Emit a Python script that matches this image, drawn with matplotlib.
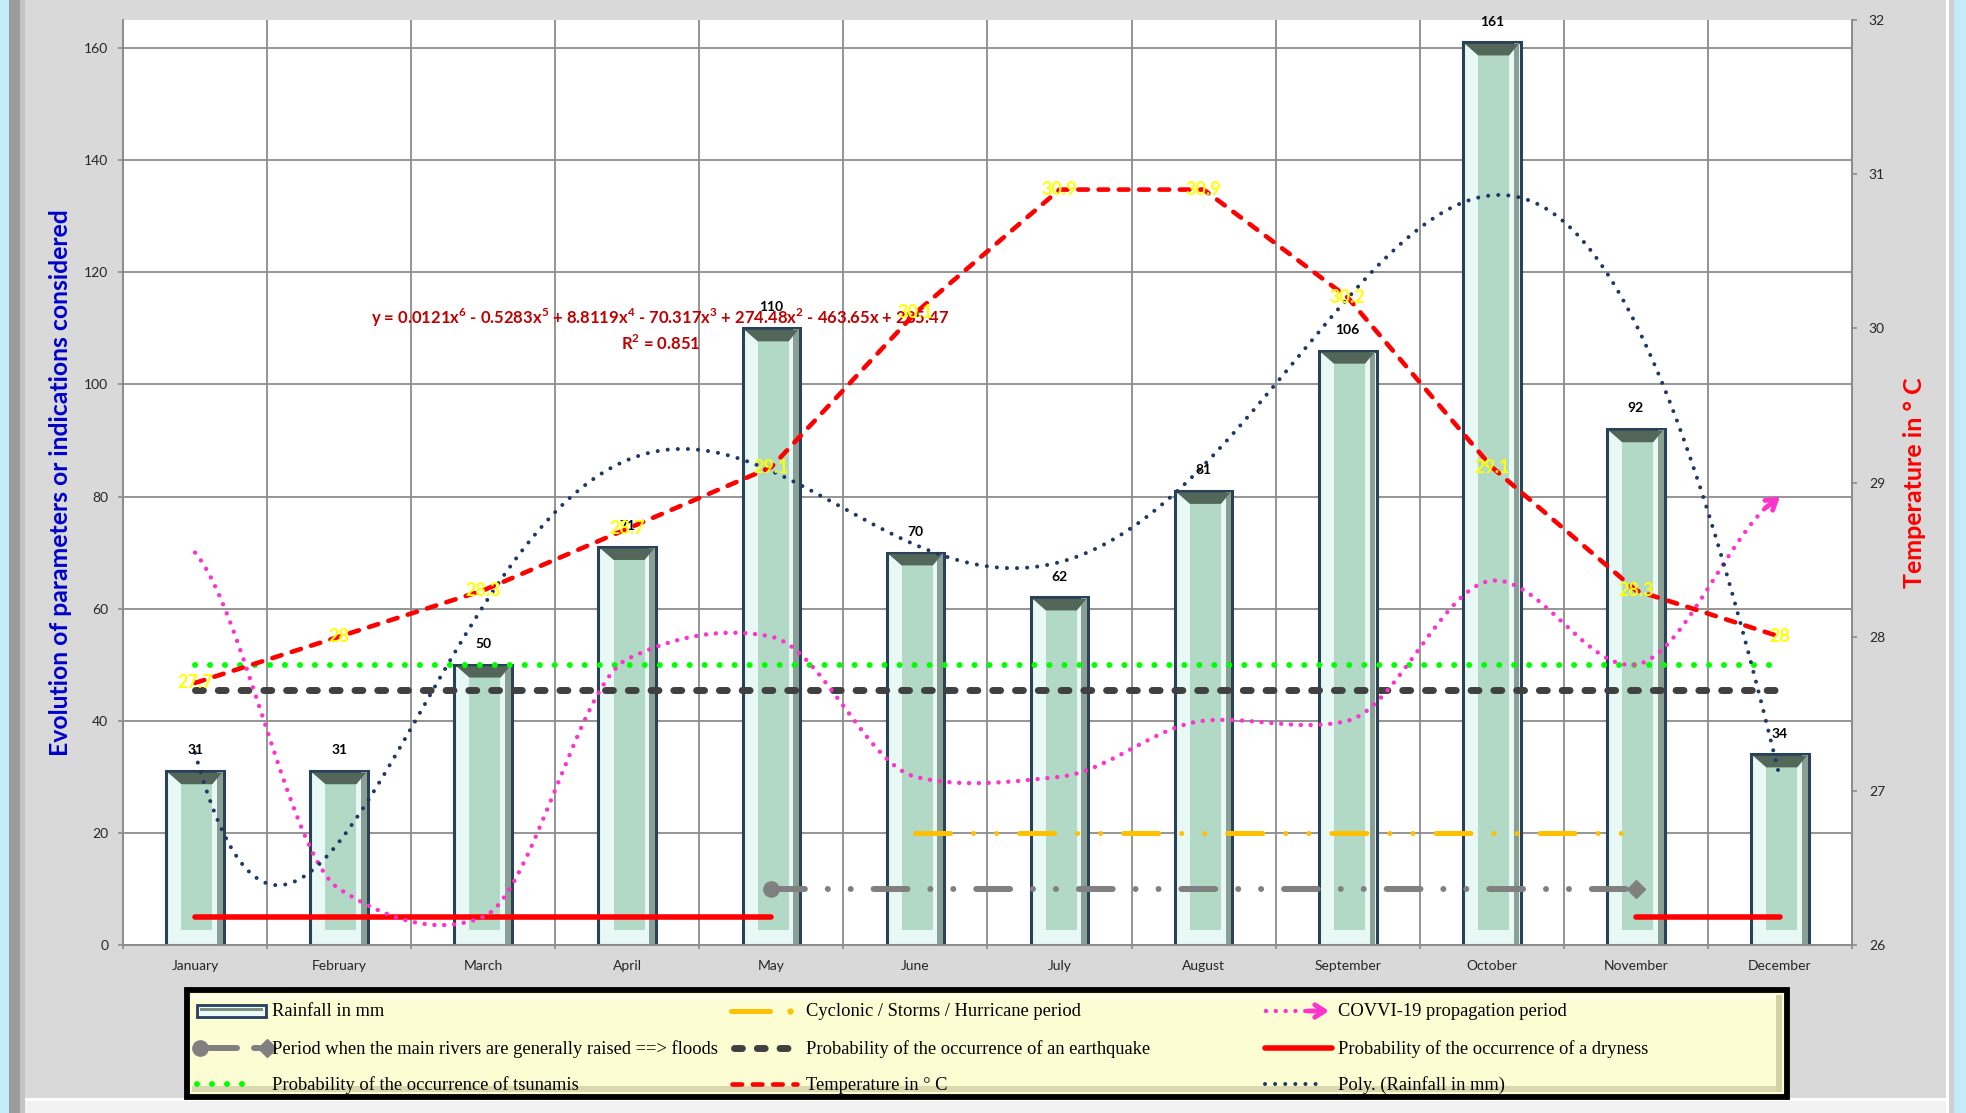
import numpy as np
import matplotlib
matplotlib.use("Agg")
import matplotlib.pyplot as plt
from matplotlib.lines import Line2D
from matplotlib.patches import Rectangle, Polygon

plt.rcParams["font.family"] = ["Lato", "DejaVu Sans"]
plt.rcParams["mathtext.fontset"] = "custom"
plt.rcParams["mathtext.rm"] = "Lato"
plt.rcParams["mathtext.bf"] = "Lato:bold"

# ---------------------------------------------------------------- data
months = ["January", "February", "March", "April", "May", "June", "July",
          "August", "September", "October", "November", "December"]
rainfall_mm = [31, 31, 50, 71, 110, 70, 62, 81, 106, 161, 92, 34]
temperature_c = [27.7, 28, 28.3, 28.7, 29.1, 30.1, 30.9, 30.9, 30.2, 29.1, 28.3, 28]
covid_spread = [70, 10, 5, 51, 55, 30, 30, 40, 40, 65, 50, 80]
tsunami_risk = [50, 50, 50, 50, 50, 50, 50, 50, 50, 50, 50, 50]
earthquake_risk = [45.5, 45.5, 45.5, 45.5, 45.5, 45.5, 45.5, 45.5, 45.5, 45.5, 45.5, 45.5]
nan = np.nan
dryness_risk = [5, 5, 5, 5, 5, nan, nan, nan, nan, nan, 5, 5]
cyclone_period = [nan, nan, nan, nan, nan, 20, 20, 20, 20, 20, 20, nan]
flood_period = [nan, nan, nan, nan, 10, 10, 10, 10, 10, 10, 10, nan]
left_ticks = [0, 20, 40, 60, 80, 100, 120, 140, 160]
right_ticks = [26, 27, 28, 29, 30, 31, 32]
trend_label = (r"y = 0.0121x$^{\mathbf{6}}$ - 0.5283x$^{\mathbf{5}}$ + 8.8119x$^{\mathbf{4}}$"
               r" - 70.317x$^{\mathbf{3}}$ + 274.48x$^{\mathbf{2}}$ - 463.65x + 285.47")
r2_label = r"R$^{\mathbf{2}}$ = 0.851"

# ---------------------------------------------------------------- helpers
def smooth_curve(xv, yv, n=30, tension=0.5):
    """Cardinal-spline path through the given points (softened tangents)."""
    xv = np.asarray(xv, float)
    yv = np.asarray(yv, float)
    px = np.concatenate([[2 * xv[0] - xv[1]], xv, [2 * xv[-1] - xv[-2]]])
    py = np.concatenate([[2 * yv[0] - yv[1]], yv, [2 * yv[-1] - yv[-2]]])
    t = np.linspace(0, 1, n, endpoint=False)
    h00 = 2 * t**3 - 3 * t**2 + 1
    h10 = t**3 - 2 * t**2 + t
    h01 = -2 * t**3 + 3 * t**2
    h11 = t**3 - t**2
    ox, oy = [], []
    for i in range(1, len(px) - 2):
        for p, o in ((px, ox), (py, oy)):
            m1 = tension * (p[i + 1] - p[i - 1]) / 2
            m2 = tension * (p[i + 2] - p[i]) / 2
            if p is px:
                m1 = (p[i + 1] - p[i - 1]) / 2
                m2 = (p[i + 2] - p[i]) / 2
            o.extend(h00 * p[i] + h10 * m1 + h01 * p[i + 1] + h11 * m2)
    ox.append(xv[-1])
    oy.append(yv[-1])
    return np.array(ox), np.array(oy)


# ---------------------------------------------------------------- figure
W, H = 1966, 1113
fig = plt.figure(figsize=(W / 100, H / 100), dpi=100, facecolor="#d9d9d9")
L, R, T, B = 123, 1852, 20, 945
ax = fig.add_axes([L / W, 1 - B / H, (R - L) / W, (B - T) / H])
ax.set_facecolor("white")
ax.set_xlim(-0.5, 11.5)
ax.set_ylim(0, 165)
ax.set_axisbelow(True)

cat_px = (R - L) / 12.0
unit_px = (B - T) / 165.0
dx = 1.0 / cat_px
dy = 1.0 / unit_px

grid_c = "#8c8c8c"
ax.set_yticks(left_ticks)
ax.set_xticks(np.arange(-0.5, 12, 1))
ax.set_xticklabels([])
xs = np.arange(len(months))
ax.set_xticks(xs, minor=True)
ax.set_xticklabels(months, minor=True)
ax.grid(True, which="major", color=grid_c, lw=1.3)
ax.tick_params(axis="y", direction="out", length=3.6, width=1.2, color=grid_c,
               labelsize=10, pad=7, labelcolor="#262626")
ax.tick_params(axis="x", which="major", direction="out", length=3.2, width=1.2,
               color=grid_c)
ax.tick_params(axis="x", which="minor", length=0, pad=11, labelsize=10,
               labelcolor="#262626")
for s in ("left", "bottom", "right"):
    ax.spines[s].set_color(grid_c)
    ax.spines[s].set_linewidth(1.4)
ax.spines["top"].set_visible(False)

# ---------------------------------------------------------------- bars (bevelled)
rain = np.asarray(rainfall_mm, float)
BW = 0.4
ax.bar(xs, rain, width=BW, color="#e8f8f4", edgecolor="#2a4257", linewidth=2.2, zorder=2)
ax.bar(xs + BW / 2 - 0.028, rain - 1.0 * dy, width=0.04, color="#8aa094",
       linewidth=0, zorder=2.1)
ax.bar(xs + 0.012, rain - 28 * dy, bottom=15 * dy, width=0.215, color="#b2d9c5",
       linewidth=0, zorder=2.2)
for xi, hi in zip(xs, rain):
    top = [(xi - BW / 2 + 2 * dx, hi - 1.5 * dy), (xi + BW / 2 - 2 * dx, hi - 1.5 * dy),
           (xi + 0.12, hi - 13 * dy), (xi - 0.095, hi - 13 * dy)]
    ax.add_patch(Polygon(top, closed=True, fc="#53665a", ec="none", zorder=2.3))
    ax.annotate(f"{hi:g}", (xi, hi), xytext=(0, 15), textcoords="offset points",
                ha="center", va="center", fontsize=10, fontweight="bold",
                color="black", zorder=8)

# ---------------------------------------------------------------- hazard lines
ax.plot(xs, tsunami_risk, color="#00ff00", lw=4.3, linestyle=(0, (0.01, 2.5)),
        dash_capstyle="round", zorder=4)
ax.plot(xs, earthquake_risk, color="#404040", lw=5, linestyle=(0, (1.14, 2.14)),
        dash_capstyle="round", zorder=4)
ax.plot(xs, dryness_risk, color="#ff0000", lw=4, solid_capstyle="round", zorder=4)
ax.plot(xs, cyclone_period, color="#ffc000", lw=3.6,
        linestyle=(0, (7, 4.6, 0.01, 4.6, 0.01, 4.6)), dash_capstyle="round", zorder=4)
flood = np.asarray(flood_period, float)
ax.plot(xs, flood, color="#808080", lw=4.3,
        linestyle=(0, (5.67, 3.83, 0.01, 3.83, 0.01, 3.83)), dash_capstyle="round", zorder=4)
valid = np.where(~np.isnan(flood))[0]
ax.plot(xs[valid[0]], flood[valid[0]], marker="o", ms=11, color="#808080", zorder=4.5)
ax.plot(xs[valid[-1]], flood[valid[-1]], marker="D", ms=9.5, color="#808080", zorder=4.5)

# COVID spread, smoothed with an arrow at the end
cx, cy = smooth_curve(xs, covid_spread)
pink = "#ff33cc"
ax.plot(cx[:-3], cy[:-3], color=pink, lw=3.2, linestyle=(0, (0.01, 2.2)),
        dash_capstyle="round", zorder=5)
ax.annotate("", xy=(cx[-1], cy[-1]), xytext=(cx[-4], cy[-4]),
            arrowprops=dict(arrowstyle="->,head_length=0.7,head_width=0.45",
                            color=pink, lw=3.5, shrinkA=0, shrinkB=0), zorder=5)

# polynomial trend (degree 6) of rainfall
xm = np.arange(1, 13)
coef = np.polyfit(xm, rain, 6)
tx = np.linspace(1, 12, 400)
ax.plot(tx - 1, np.polyval(coef, tx), color="#1f3864", lw=2.9,
        linestyle=(0, (0.01, 2.5)), dash_capstyle="round", zorder=5)

ax.text(3.23, 111.8, trend_label, ha="center", va="center", fontsize=12,
        fontweight="bold", color="#c00000", zorder=7)
ax.text(3.23, 107.4, r2_label, ha="center", va="center", fontsize=12,
        fontweight="bold", color="#c00000", zorder=7)

ax.set_ylabel("Evolution of parameters or indications considered", color="#0000cc",
              fontsize=17.8, fontweight="bold")
ax.yaxis.set_label_coords((72 - L) / (R - L), 0.5)

# ---------------------------------------------------------------- temperature axis
ax2 = ax.twinx()
ax2.set_ylim(26, 32)
ax2.set_yticks(right_ticks)
for s in ("left", "top", "bottom"):
    ax2.spines[s].set_visible(False)
ax2.spines["right"].set_color(grid_c)
ax2.spines["right"].set_linewidth(1.4)
ax2.tick_params(axis="y", direction="out", length=3.6, width=1.2, color=grid_c,
                labelsize=10, pad=8.5, labelcolor="#262626")
ax2.plot(xs, temperature_c, color="#ff0000", lw=3.3, linestyle=(0, (2.1, 2.33)),
         dash_capstyle="round", zorder=5)
for xi, ti in zip(xs, temperature_c):
    ax2.text(xi, ti, f"{ti:g}", ha="center", va="center", color="#ffff00",
             fontsize=13, fontweight="bold", zorder=6)
ax2.set_ylabel("Temperature in ° C", color="#ff0000", fontsize=18, fontweight="bold",
               rotation=90)
ax2.yaxis.set_label_coords((1903 - L) / (R - L), 0.5)

# ---------------------------------------------------------------- frame and legend
lax = fig.add_axes([0, 0, 1, 1], zorder=5)
lax.set_xlim(0, W)
lax.set_ylim(H, 0)
lax.axis("off")

lax.add_patch(Rectangle((0, 0), 9, H, color="#c4ebf8", lw=0))
lax.add_patch(Rectangle((9, 0), 11, H, color="#9c9c9c", lw=0))
lax.add_patch(Rectangle((20, 0), 5, H, color="#c4c4c4", lw=0))
lax.add_patch(Rectangle((25, 1098), W - 25, 3, color="white", lw=0))
lax.add_patch(Rectangle((25, 1101), W - 25, 12, color="#f2f2f2", lw=0))
lax.add_patch(Rectangle((1946, 0), 3, H, color="white", lw=0))
lax.add_patch(Rectangle((1949, 0), 5, H, color="#cfcfcf", lw=0))
lax.add_patch(Rectangle((1954, 0), 12, H, color="#c4ebf8", lw=0))

# legend box
LX0, LX1 = 187, 1787
lax.add_patch(Rectangle((LX0, 990), LX1 - LX0, 107, facecolor="#fdfdd4",
                        edgecolor="black", lw=4.2, zorder=1))
lax.add_patch(Rectangle((LX0 + 5, 1086), LX1 - LX0 - 10, 6, facecolor="#d9d9ad",
                        lw=0, zorder=1.1))
lax.add_patch(Rectangle((LX1 - 11, 995), 6, 97, facecolor="#d2d2a6", lw=0, zorder=1.1))
lax.add_patch(Rectangle((LX0 + 5, 995), LX1 - LX0 - 16, 4, facecolor="#ffffee",
                        lw=0, zorder=1.1))

rows = [1011, 1048, 1084]
cols = [(196, 267, 272), (730, 797, 806), (1264, 1330, 1338)]
z = 3

# rainfall sample
lax.add_patch(Rectangle((197, rows[0] - 6), 69, 12, facecolor="#eef8f4",
                        edgecolor="#243f60", lw=2, zorder=z))
lax.add_patch(Rectangle((200, rows[0] - 3), 63, 3, facecolor="#7d8f82", lw=0, zorder=z))
# floods sample
lax.add_line(Line2D([200, 237], [rows[1]] * 2, color="#808080", lw=4.3,
                    solid_capstyle="round", zorder=z))
lax.add_line(Line2D([200], [rows[1]], marker="o", ms=11, color="#808080", zorder=z))
lax.add_line(Line2D([254, 260], [rows[1]] * 2, color="#808080", lw=4.3,
                    solid_capstyle="round", zorder=z))
lax.add_line(Line2D([267], [rows[1]], marker="D", ms=9, color="#808080", zorder=z))
# tsunami sample
lax.add_line(Line2D([197, 253], [rows[2]] * 2, color="#00ff00", lw=4.3,
                    linestyle=(0, (0.01, 2.5)), dash_capstyle="round", zorder=z))
# cyclone sample
lax.add_line(Line2D([731, 770], [rows[0]] * 2, color="#ffc000", lw=3.6,
                    solid_capstyle="round", zorder=z))
lax.add_line(Line2D([790], [rows[0]], marker="o", ms=3.5, color="#ffc000", zorder=z))
# earthquake sample
lax.add_line(Line2D([734, 797], [rows[1]] * 2, color="#404040", lw=5,
                    linestyle=(0, (1.14, 2.14)), dash_capstyle="round", zorder=z))
# temperature sample
lax.add_line(Line2D([732, 797], [rows[2]] * 2, color="#ff0000", lw=3.3,
                    linestyle=(0, (2.1, 2.33)), dash_capstyle="round", zorder=z))
# covid sample
lax.add_line(Line2D([1266, 1306], [rows[0]] * 2, color=pink, lw=3.2,
                    linestyle=(0, (0.01, 2.2)), dash_capstyle="round", zorder=z))
lax.annotate("", xy=(1329, rows[0]), xytext=(1308, rows[0]),
             arrowprops=dict(arrowstyle="->,head_length=0.7,head_width=0.45",
                             color=pink, lw=3.5, shrinkA=0, shrinkB=0), zorder=z)
# dryness sample
lax.add_line(Line2D([1265, 1332], [rows[1]] * 2, color="#ff0000", lw=4,
                    solid_capstyle="round", zorder=z))
# poly sample
lax.add_line(Line2D([1265, 1323], [rows[2]] * 2, color="#1f3864", lw=2.9,
                    linestyle=(0, (0.01, 2.5)), dash_capstyle="round", zorder=z))

legend_texts = [
    ["Rainfall in mm", "Period when the main rivers are generally raised ==> floods",
     "Probability of the occurrence of tsunamis"],
    ["Cyclonic / Storms / Hurricane period", "Probability of the occurrence of an earthquake",
     "Temperature in ° C"],
    ["COVVI-19 propagation period", "Probability of the occurrence of a dryness",
     "Poly. (Rainfall in mm)"],
]
for (_, _, tx0), texts in zip(cols, legend_texts):
    for ry, t in zip(rows, texts):
        lax.text(tx0, ry + 1, t, ha="left", va="center", fontsize=13.3,
                 family=["Liberation Serif", "DejaVu Serif"], color="black", zorder=z)

fig.savefig("out.png", dpi=100, facecolor=fig.get_facecolor())
